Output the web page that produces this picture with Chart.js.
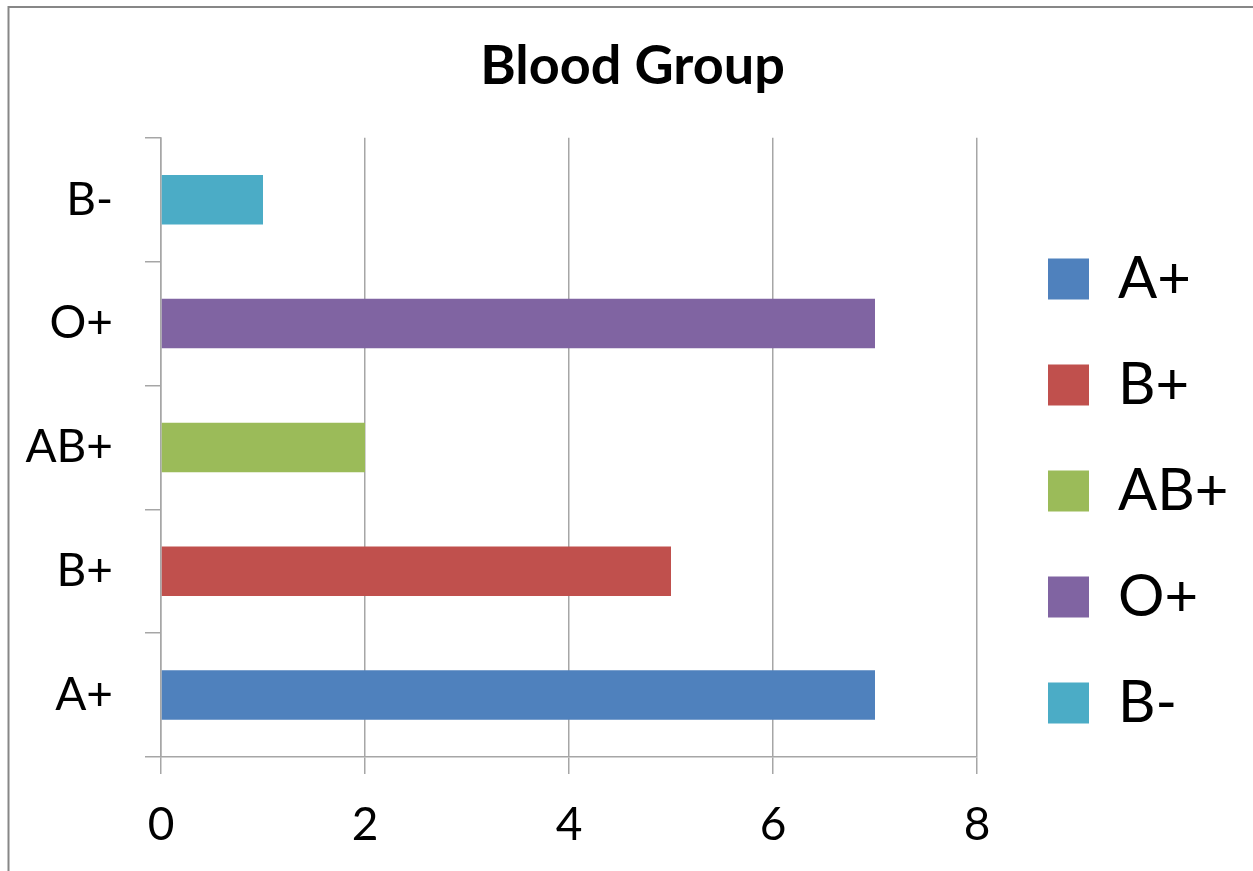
<!DOCTYPE html>
<html>
<head>
<meta charset="utf-8">
<title>Blood Group</title>
<script src="https://cdn.jsdelivr.net/npm/chart.js@4/dist/chart.umd.min.js"></script>
<style>
  html, body { margin: 0; padding: 0; background: #ffffff; overflow: hidden; }
  canvas { display: block; }
</style>
</head>
<body>
<canvas id="chart" width="1253" height="871"></canvas>
<script>
// Blood group counts
const groups = ['A+', 'B+', 'AB+', 'O+', 'B-'];
const counts = [7, 5, 2, 7, 1];
const groupColors = ['#4F81BD', '#C0504D', '#9BBB59', '#8064A2', '#4BACC6'];
const valueTicks = [0, 2, 4, 6, 8];

const FONT = 'Lato, "Open Sans", "DejaVu Sans", sans-serif';
const AXIS_GREY = '#a6a6a6';

// Box geometry for the legend column on the right
const LEGEND_WIDTH = 276;
const LEGEND_LEFT = 1000;
const LEGEND_TOP = 202;

const legendPlacement = {
  id: 'legendPlacement',
  beforeLayout(chart) {
    const lg = chart.legend;
    if (lg && !lg._fixedWidth) {
      const fit = lg.fit.bind(lg);
      lg.fit = function () { fit(); this.width = LEGEND_WIDTH; };
      lg._fixedWidth = true;
    }
  },
  afterLayout(chart) {
    const lg = chart.legend;
    if (!lg) return;
    lg.left = LEGEND_LEFT;
    lg.right = LEGEND_LEFT + lg.width;
    lg.top = LEGEND_TOP;
    lg.bottom = chart.height;
    lg.height = lg.bottom - lg.top;
  }
};

// White background and the grey outer frame (left and top edges)
const chartFrame = {
  id: 'chartFrame',
  beforeDraw(chart) {
    const ctx = chart.ctx;
    ctx.save();
    ctx.fillStyle = '#ffffff';
    ctx.fillRect(0, 0, chart.width, chart.height);
    ctx.strokeStyle = '#878787';
    ctx.lineWidth = 2;
    ctx.beginPath();
    ctx.moveTo(8.5, chart.height);
    ctx.lineTo(8.5, 7);
    ctx.lineTo(chart.width, 7);
    ctx.stroke();
    ctx.restore();
  }
};

new Chart(document.getElementById('chart'), {
  type: 'bar',
  data: {
    labels: groups,
    datasets: [{
      label: 'Blood Group',
      data: counts,
      backgroundColor: groupColors,
      borderWidth: 0,
      categoryPercentage: 1.0,
      barPercentage: 0.4
    }]
  },
  options: {
    indexAxis: 'y',
    responsive: false,
    animation: false,
    devicePixelRatio: 1,
    layout: { padding: { left: 12, right: 0, top: 0, bottom: 0 } },
    scales: {
      x: {
        type: 'linear',
        min: 0,
        max: 8,
        afterBuildTicks: s => { s.ticks = valueTicks.map(v => ({ value: v })); },
        afterFit: s => { s.height = 114; },
        grid: {
          color: AXIS_GREY,
          lineWidth: 1.5,
          drawTicks: true,
          tickLength: 17,
          tickColor: AXIS_GREY
        },
        border: { display: true, color: AXIS_GREY, width: 1.5 },
        ticks: {
          color: '#000000',
          padding: 24,
          font: { family: FONT, size: 46 }
        }
      },
      y: {
        type: 'category',
        reverse: true,
        offset: true,
        afterFit: s => { s.width = 149; },
        grid: {
          offset: true,
          drawOnChartArea: false,
          drawTicks: true,
          tickLength: 16,
          tickColor: AXIS_GREY,
          lineWidth: 1.5
        },
        border: { display: true, color: AXIS_GREY, width: 1.5 },
        ticks: {
          color: '#000000',
          padding: 32,
          font: { family: FONT, size: 46 }
        }
      }
    },
    plugins: {
      title: {
        display: true,
        text: 'Blood Group',
        color: '#000000',
        font: { family: FONT, size: 54, weight: 'bold' },
        padding: { top: 34, bottom: 39 }
      },
      legend: {
        display: true,
        position: 'right',
        align: 'start',
        labels: {
          color: '#000000',
          font: { family: FONT, size: 58 },
          boxWidth: 41,
          boxHeight: 41,
          padding: 48,
          generateLabels: chart => chart.data.labels.map((text, i) => ({
            text,
            fillStyle: groupColors[i],
            strokeStyle: groupColors[i],
            lineWidth: 0,
            fontColor: '#000000',
            hidden: false,
            index: i
          }))
        }
      },
      tooltip: { enabled: false }
    }
  },
  plugins: [chartFrame, legendPlacement]
});
</script>
</body>
</html>
